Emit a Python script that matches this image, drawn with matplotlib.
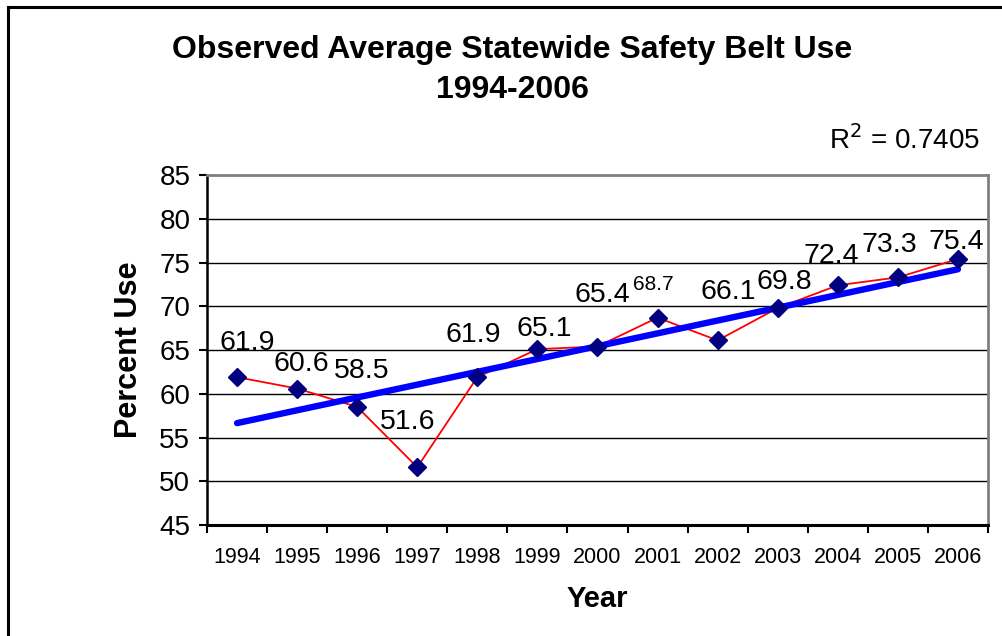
import numpy as np
import matplotlib
matplotlib.use("Agg")
import matplotlib.pyplot as plt
from matplotlib.lines import Line2D

plt.rcParams['font.family'] = ['Liberation Sans', 'DejaVu Sans']

# data
years = ["1994", "1995", "1996", "1997", "1998", "1999", "2000",
         "2001", "2002", "2003", "2004", "2005", "2006"]
belt_use = [61.9, 60.6, 58.5, 51.6, 61.9, 65.1, 65.4,
            68.7, 66.1, 69.8, 72.4, 73.3, 75.4]
r2_text = "R$^2$ = 0.7405"

# label nudges in points (the original labels were hand placed)
# dy is where the middle of the digits sits above the marker
label_dx = [7.5, 3.2, 3.1, -6.7, -3.2, 4.7, 3.2, -3.4, 7.3, 4.4, -5, -5.8, -1.4]
label_dy = [27, 19.8, 28.4, 34.8, 32.5, 16.6, 39.2, 25.6, 37, 20.9, 23.3, 25.5, 14.4]
label_size = [20.5, 20.5, 20.5, 20.5, 20.5, 20.5, 20.5, 15, 20.5, 20.5, 20.5, 20.5, 20.5]

fig = plt.figure(figsize=(10.02, 6.36), dpi=100)
ax = fig.add_axes([0.2066, 0.1745, 0.7794, 0.5503])

x = np.arange(len(years))

ax.plot(x, belt_use, color="#ff0000", lw=1.3, zorder=3)

# linear trendline
slope, icpt = np.polyfit(x, belt_use, 1)
ax.plot(x, slope * x + icpt, color="#0000ff", lw=4.6, solid_capstyle="round", zorder=4)

ax.plot(x, belt_use, ls="none", marker="D", ms=9.5, color="#000080", zorder=5)

for i, v in enumerate(belt_use):
    # baseline = digit middle minus half the cap height (~0.716 em)
    ax.annotate(str(v), (x[i], v),
                xytext=(label_dx[i], label_dy[i] - 0.358 * label_size[i]),
                textcoords="offset points", ha="center", va="baseline",
                fontsize=label_size[i], zorder=6)

# axes formatting (excel look)
ax.set_xlim(-0.5, len(years) - 0.5)
ax.set_ylim(45, 85)
ax.set_yticks(np.arange(45, 86, 5))
ax.tick_params(axis="y", labelsize=20, length=6, width=1.5, direction="out", pad=6)

ax.set_xticks(x)
ax.set_xticklabels(years, fontsize=15.5)
ax.tick_params(axis="x", length=0, pad=16)
ax.set_xticks(np.arange(-0.5, len(years)), minor=True)
ax.tick_params(axis="x", which="minor", length=6, width=1.5, direction="out")

for yv in range(50, 85, 5):
    ax.axhline(yv, color="black", lw=1, zorder=1)

ax.spines["left"].set_linewidth(1.8)
ax.spines["bottom"].set_linewidth(2.2)
ax.spines["top"].set_color("#808080")
ax.spines["top"].set_linewidth(2)
ax.spines["right"].set_color("#808080")
ax.spines["right"].set_linewidth(2)

ax.set_ylabel("Percent Use", fontsize=22, fontweight="bold", labelpad=11)
ax.set_xlabel("Year", fontsize=21, fontweight="bold", labelpad=12)

# titles
fig.text(0.511, 0.921, "Observed Average Statewide Safety Belt Use",
         ha="center", va="center", fontsize=23, fontweight="bold")
fig.text(0.511, 0.858, "1994-2006", ha="center", va="center",
         fontsize=23, fontweight="bold")
fig.text(0.978, 0.78, r2_text, ha="right", va="center", fontsize=20)

# chart border (top and left only show in the reference)
fig.add_artist(Line2D([0.0075, 0.0075], [0, 0.989], transform=fig.transFigure, color="black", lw=2.2))
fig.add_artist(Line2D([0.0075, 1.0], [0.989, 0.989], transform=fig.transFigure, color="black", lw=2.2))

fig.savefig("out.png", dpi=100)
